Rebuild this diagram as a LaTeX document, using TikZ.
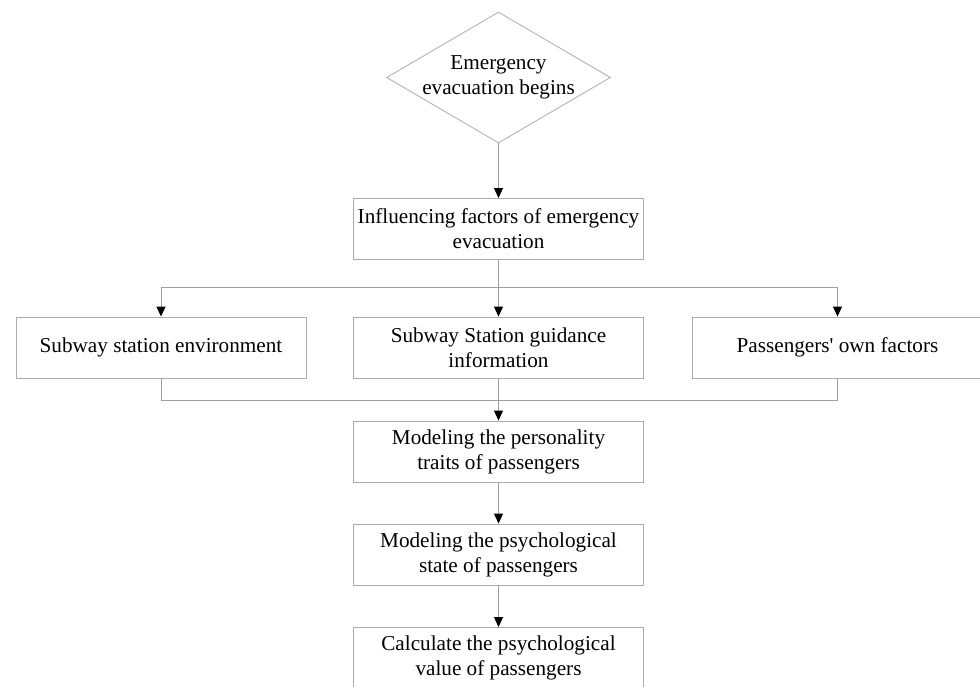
\documentclass[tikz,border=0pt]{standalone}
\usepackage{fontspec}
\setmainfont{Liberation Serif}
\usetikzlibrary{shapes.geometric,arrows.meta}
\begin{document}
\begin{tikzpicture}[x=1pt,y=-1pt,
  txt/.style={align=center,font=\fontsize{21.2}{25}\selectfont},
  box/.style={txt,draw=black!33,line width=0.9pt,rectangle,minimum width=290pt,minimum height=61pt,inner sep=0pt},
  dia/.style={draw=black!30,line width=0.9pt,diamond,minimum width=224pt,minimum height=131pt,inner sep=0pt},
  link/.style={draw=black!38,line width=0.9pt},
  arr/.style={link,-{Triangle[length=10pt,width=9pt,fill=black,color=black]}}]
\useasboundingbox (0,0) rectangle (980,686);
\begin{scope}
\clip (0,0) rectangle (980,686);
\node[dia] (start) at (498.5,77.5) {};
\node[txt] (starttext) at (start.center) {Emergency\\evacuation begins};
\node[box] (inf) at (498.5,229) {Influencing factors of emergency\\evacuation};
\node[box] (env) at (161,347.5) {Subway station environment};
\node[box] (gui) at (498.5,347.5) {Subway Station guidance\\information};
\node[box] (own) at (837.5,347.5) {Passengers\textquotesingle\ own factors};
\node[box] (pers) at (498.5,451.5) {Modeling the personality\\traits of passengers};
\node[box] (psy) at (498.5,554.5) {Modeling the psychological\\state of passengers};
\node[box] (calc) at (498.5,658) {Calculate the psychological\\value of passengers};
\coordinate (split) at (498.5,287);
\coordinate (join) at (498.5,400);
\draw[arr] (start.south) -- (inf.north);
\draw[link] (inf.south) -- (split);
\draw[arr] (split) -| (env.north);
\draw[arr] (split) -| (own.north);
\draw[arr] (split) -- (gui.north);
\draw[link] (env.south) |- (join);
\draw[link] (own.south) |- (join);
\draw[arr] (gui.south) -- (pers.north);
\draw[arr] (pers.south) -- (psy.north);
\draw[arr] (psy.south) -- (calc.north);
\end{scope}
\end{tikzpicture}
\end{document}
